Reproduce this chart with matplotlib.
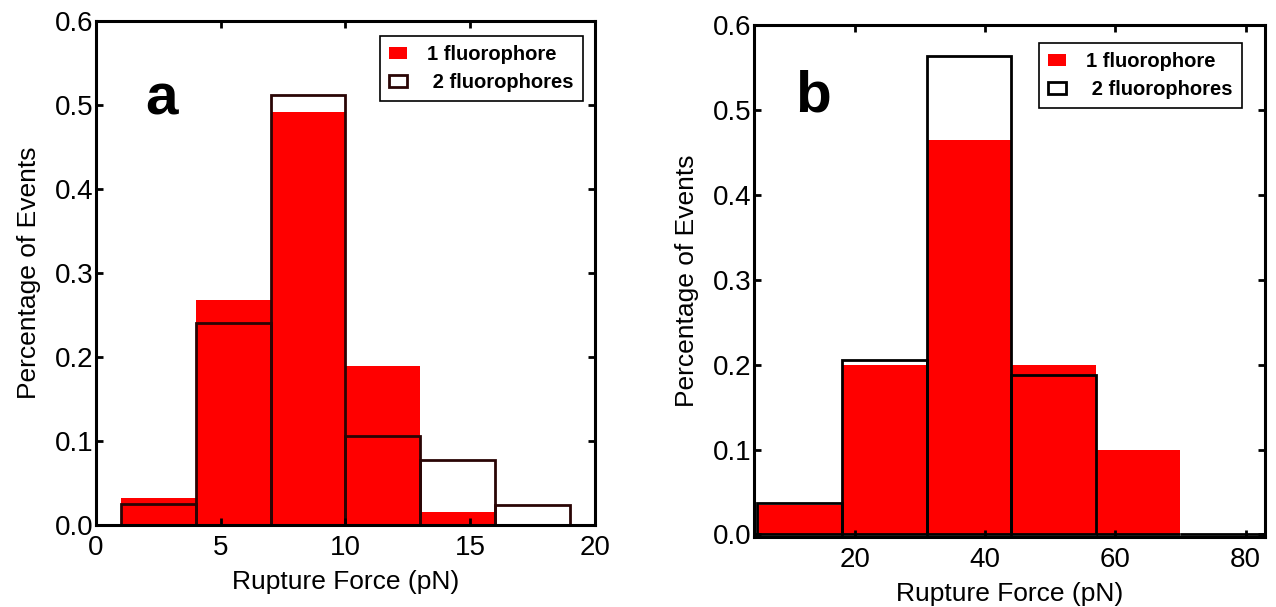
import matplotlib.pyplot as plt
import numpy as np

plt.rcParams['font.family'] = ['Liberation Sans', 'DejaVu Sans']

# Panel a: rupture force bins (pN, left edges) and fractions
edges_a = [1, 4, 7, 10, 13]
one_fluor_a = [0.032, 0.268, 0.492, 0.189, 0.015]
edges_a2 = [1, 4, 7, 10, 13, 16]
two_fluor_a = [0.025, 0.241, 0.512, 0.106, 0.078, 0.024]

# Panel b
edges_b = [5, 18, 31, 44, 57]
one_fluor_b = [0.035, 0.200, 0.465, 0.200, 0.100]
edges_b2 = [5, 18, 31, 44, 57, 70]
two_fluor_b = [0.037, 0.205, 0.563, 0.188, 0.0, 0.0]

width_a = 3
width_b = 13

fig = plt.figure(figsize=(12.76, 6.07), dpi=100)
ax_a = fig.add_axes([0.0752, 0.135, 0.3911, 0.8304])
ax_b = fig.add_axes([0.591, 0.1153, 0.4004, 0.8435])


def style_axes(ax):
    for s in ax.spines.values():
        s.set_linewidth(2.2)
    ax.tick_params(direction='in', top=True, right=True, length=5, width=2,
                   labelsize=20)
    ax.tick_params(axis='x', pad=7)
    ax.tick_params(axis='y', pad=2)
    ax.set_xlabel('Rupture Force (pN)', fontsize=19, labelpad=7)
    ax.set_ylabel('Percentage of Events', fontsize=19, labelpad=10)


def add_legend(ax, anchor):
    leg = ax.legend(loc='upper right', bbox_to_anchor=anchor,
                    prop={'weight': 'bold', 'size': 14.5}, fancybox=False,
                    edgecolor='black', framealpha=1, handlelength=0.9,
                    handleheight=0.55, borderpad=0.45, labelspacing=0.45,
                    handletextpad=1.0, borderaxespad=0)
    leg.get_frame().set_linewidth(1.2)


# panel a
edge_dark = '#2a0505'
ax_a.bar(edges_a, one_fluor_a, width=width_a, align='edge', color='#ff0000',
         linewidth=0, label='1 fluorophore')
ax_a.bar(edges_a2, two_fluor_a, width=width_a, align='edge', fill=False,
         edgecolor=edge_dark, linewidth=2, label=' 2 fluorophores')
ax_a.set_xlim(0, 20)
ax_a.set_ylim(0, 0.6)
ax_a.set_xticks([0, 5, 10, 15, 20])
ax_a.set_yticks(np.arange(0, 0.61, 0.1))
ax_a.set_yticklabels(['0.0', '0.1', '0.2', '0.3', '0.4', '0.5', '0.6'])
style_axes(ax_a)
ax_a.text(0.098, 0.845, 'a', transform=ax_a.transAxes, fontsize=42,
          fontweight='bold', va='center', ha='left')
add_legend(ax_a, (0.975, 0.97))

# panel b
ax_b.bar(edges_b, one_fluor_b, width=width_b, align='edge', color='#ff0000',
         linewidth=0, label='1 fluorophore')
ax_b.bar(edges_b2, two_fluor_b, width=width_b, align='edge', fill=False,
         edgecolor='black', linewidth=2, label=' 2 fluorophores')
ax_b.set_xlim(4.5, 83)
ax_b.set_ylim(-0.003, 0.6)
ax_b.set_xticks([20, 40, 60, 80])
ax_b.set_yticks(np.arange(0, 0.61, 0.1))
ax_b.set_yticklabels(['0.0', '0.1', '0.2', '0.3', '0.4', '0.5', '0.6'])
style_axes(ax_b)
ax_b.text(0.08, 0.86, 'b', transform=ax_b.transAxes, fontsize=42,
          fontweight='bold', va='center', ha='left')
add_legend(ax_b, (0.955, 0.965))

fig.savefig('out.png', dpi=100)
